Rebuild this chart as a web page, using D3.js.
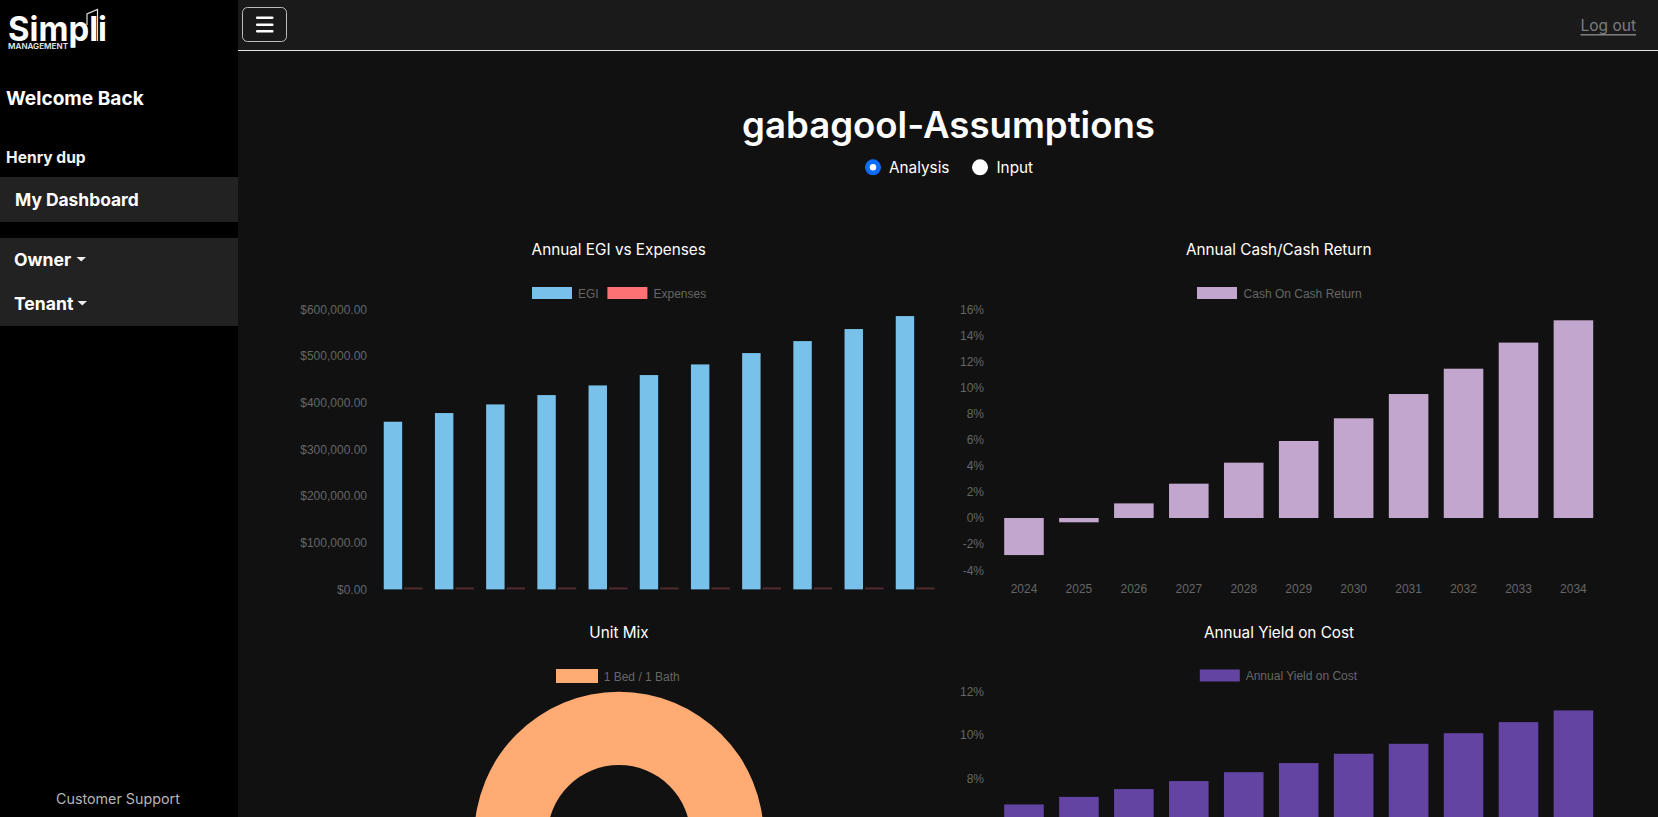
<!DOCTYPE html>
<html><head><meta charset="utf-8">
<script src="https://cdn.jsdelivr.net/npm/d3@7/dist/d3.min.js"></script>
<style>
html,body{margin:0;padding:0;width:1658px;height:817px;overflow:hidden;background:#111}
svg{display:block}
text{font-family:Inter,"Noto Sans",sans-serif}
.axis text,.lg{font-family:"Liberation Sans",Arial,sans-serif;font-size:12px;fill:#666}
.axis path,.axis line{display:none}
</style></head><body>
<svg id="c" width="1658" height="817" viewBox="0 0 1658 817"></svg>
<script>
const years = ["2024","2025","2026","2027","2028","2029","2030","2031","2032","2033","2034"];
const egi = [359300,377900,396400,416400,437100,459300,482100,506400,532100,557900,585700];
const expenses = [4200,4200,4200,4200,4200,4200,4200,4200,4200,4200,4200];
const cashOnCash = [-2.84,-0.33,1.12,2.63,4.24,5.9,7.64,9.5,11.44,13.44,15.15];
const yieldOnCost = [6.8,7.15,7.51,7.88,8.29,8.71,9.14,9.6,10.09,10.6,11.14];
const unitMixLabels = ["1 Bed / 1 Bath"];
const unitMixValues = [1];
const egiTicks = [0,100000,200000,300000,400000,500000,600000];
const cocTicks = [-4,-2,0,2,4,6,8,10,12,14,16];
const yocTicks = [8,10,12];

const svg = d3.select("#c");
const rect=(x,y,w,h,fill,extra={})=>{const r=svg.append("rect").attr("x",x).attr("y",y).attr("width",w).attr("height",h).attr("fill",fill);for(const k in extra)r.attr(k,extra[k]);return r;};
const txt=(s,x,y,size,fill,weight=400,anchor="start",cls=null)=>{const t=svg.append("text").attr("x",x).attr("y",y).attr("font-size",size).attr("fill",fill).attr("font-weight",weight).attr("text-anchor",anchor).attr("dominant-baseline","central").text(s);if(cls)t.attr("class",cls);return t;};

// page frame
rect(0,0,1658,817,"#111");
rect(238,0,1420,50,"#1a1a1a");
rect(238,50,1420,1,"#e4e4e4");
rect(0,0,238,817,"#000");
rect(0,177,238,45,"#222");
rect(0,238,238,88,"#222");

// logo
txt("Simpli",8,40.7,34,"#fff",700).attr("dominant-baseline","alphabetic").attr("textLength",99).attr("lengthAdjust","spacingAndGlyphs");
txt("MANAGEMENT",8,48.7,8,"#e8e8e8",600).attr("dominant-baseline","alphabetic").attr("textLength",60).attr("lengthAdjust","spacingAndGlyphs");
svg.append("path").attr("d","M87 25 V14 L97.5 9.5 V41").attr("fill","none").attr("stroke","#ddd").attr("stroke-width",1.2);

// sidebar
txt("Welcome Back",6,98,19.1,"#fff",700);
txt("Henry dup",6,157,15.6,"#f2f2f2",700);
txt("My Dashboard",15,199.5,17.4,"#fff",700);
txt("Owner",14,259.5,17.6,"#fff",700);
txt("Tenant",14,303.5,17.6,"#fff",700);
svg.append("path").attr("d","M76.5 257 h9.5 l-4.75 4.5z").attr("fill","#eee");
svg.append("path").attr("d","M77.5 301 h9.5 l-4.75 4.5z").attr("fill","#eee");
txt("Customer Support",56,798,14.3,"#b5b5b5",400);

// top bar
rect(242.5,7.5,44,34,"none",{stroke:"#bdbdbd","stroke-width":1,rx:5});
[17.5,24.5,31].forEach(y=>rect(256,y-1,17.5,2.4,"#fff",{rx:1}));
txt("Log out",1636,25.5,15.5,"#7d7d7d",400,"end").attr("text-decoration","underline");

// header
txt("gabagool-Assumptions",948.5,124.5,36.6,"#fff",600,"middle");
svg.append("circle").attr("cx",873).attr("cy",167.3).attr("r",8).attr("fill","#0d6efd");
svg.append("circle").attr("cx",873).attr("cy",167.3).attr("r",3.2).attr("fill","#fff");
txt("Analysis",889,167,15.3,"#fff");
svg.append("circle").attr("cx",980).attr("cy",167.3).attr("r",8).attr("fill","#fff");
txt("Input",996.5,167,15.3,"#fff");

// legends
function legend(x,y,w,h,color,label,tx){
  rect(x,y,w,h,color);
  txt(label,tx,y+h/2+0.5,12,"#666",400,"start","lg");
}
function title(s,x,y){txt(s,x,y,15.3,"#fff",400,"middle");}

// Chart 1
title("Annual EGI vs Expenses",618.7,249.3);
legend(532,287,40,12,"#78c1ea","EGI",578);
legend(607.4,287,40,12,"#fd7074","Expenses",653.5);
const x1 = d3.scaleBand().domain(years).range([377.6,940.8]).paddingInner(0.2).paddingOuter(0.1);
const x1s = d3.scaleBand().domain(["egi","exp"]).range([0,x1.bandwidth()]).paddingInner(0.1).paddingOuter(0.05);
const y1 = d3.scaleLinear().domain([0,600000]).range([589.4,309.4]);
svg.append("g").attr("class","axis").attr("transform","translate(370,0)")
  .call(d3.axisLeft(y1).tickValues(egiTicks).tickSize(0).tickPadding(3).tickFormat(d=>"$"+d3.format(",.2f")(d)));
svg.append("g").selectAll("rect").data(years).join("rect")
  .attr("x",(d)=>x1(d)+x1s("egi")).attr("width",x1s.bandwidth())
  .attr("y",(d,i)=>y1(egi[i])).attr("height",(d,i)=>y1(0)-y1(egi[i])).attr("fill","#78c1ea");
svg.append("g").selectAll("rect").data(years).join("rect")
  .attr("x",(d)=>x1(d)+x1s("exp")).attr("width",x1s.bandwidth())
  .attr("y",(d,i)=>y1(expenses[i])).attr("height",(d,i)=>y1(0)-y1(expenses[i])).attr("fill","#522b2e");

// Chart 2
title("Annual Cash/Cash Return",1278.7,249.3);
legend(1197,287,40,12,"#c3a6cd","Cash On Cash Return",1243.6);
const x2 = d3.scaleBand().domain(years).range([996.5,1600.9]).paddingInner(0.28).paddingOuter(0.14);
const y2 = d3.scaleLinear().domain([-4,16]).range([570.2,309.2]);
svg.append("g").attr("class","axis").attr("transform","translate(987,0)")
  .call(d3.axisLeft(y2).tickValues(cocTicks).tickSize(0).tickPadding(3).tickFormat(d=>d+"%"));
svg.append("g").attr("class","axis").attr("transform","translate(0,589.4)")
  .call(d3.axisBottom(x2).tickSize(0).tickPadding(0)).selectAll("text").attr("dy","0.32em").attr("y",0);
svg.append("g").selectAll("rect").data(years).join("rect")
  .attr("x",d=>x2(d)).attr("width",x2.bandwidth())
  .attr("y",(d,i)=>Math.min(y2(0),y2(cashOnCash[i]))).attr("height",(d,i)=>Math.abs(y2(0)-y2(cashOnCash[i]))).attr("fill","#c3a6cd");

// Chart 3 - donut
title("Unit Mix",619,632);
legend(556,669,42,14,"#ffab73",unitMixLabels[0],603.7);
const arc = d3.arc().innerRadius(71.5).outerRadius(144.7);
svg.append("g").attr("transform","translate(619,836.5)").selectAll("path")
  .data(d3.pie().sort(null)(unitMixValues)).join("path").attr("d",arc).attr("fill","#ffab73");

// Chart 4
title("Annual Yield on Cost",1279,632);
legend(1199.8,669.5,40,12,"#6444a3","Annual Yield on Cost",1245.7);
const y4 = d3.scaleLinear().domain([0,12]).range([951.8,691.8]);
svg.append("g").attr("class","axis").attr("transform","translate(987,0)")
  .call(d3.axisLeft(y4).tickValues(yocTicks).tickSize(0).tickPadding(3).tickFormat(d=>d+"%"));
svg.append("g").selectAll("rect").data(years).join("rect")
  .attr("x",d=>x2(d)).attr("width",x2.bandwidth())
  .attr("y",(d,i)=>y4(yieldOnCost[i])).attr("height",(d,i)=>y4(0)-y4(yieldOnCost[i])).attr("fill","#6444a3");
</script>
</body></html>
